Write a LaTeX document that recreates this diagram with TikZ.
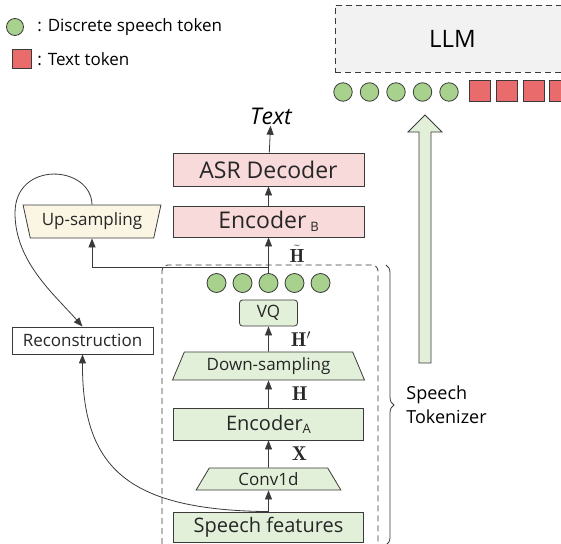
\RequirePackage{fix-cm}
\documentclass[tikz,border=0pt]{standalone}
\usepackage{fontspec}
\usepackage{amsmath}
\newfontfamily\labelfont{Open Sans}
\usetikzlibrary{shapes.geometric, arrows.meta, positioning, calc, decorations.pathreplacing}
\definecolor{boxgreen}{HTML}{E2F0D9}
\definecolor{tokgreen}{HTML}{A9D18E}
\definecolor{boxpink}{HTML}{F9DADA}
\definecolor{tokred}{HTML}{EA6B6B}
\definecolor{boxcream}{HTML}{FBF6E3}
\definecolor{llmgray}{HTML}{F2F2F2}
\definecolor{edge}{HTML}{3A3A3A}
\newcommand{\labsmall}{\fontsize{17}{20}\selectfont}
\newcommand{\labmid}{\fontsize{20}{24}\selectfont}
\newcommand{\labbig}{\fontsize{23}{27}\selectfont}
\newcommand{\subfs}{\fontsize{13}{13}\selectfont}

\begin{document}
\begin{tikzpicture}[
  x=1pt, y=1pt,
  >={Triangle[length=9pt, width=7pt]},
  font=\labelfont\labsmall,
  line width=0.8pt,
  draw=edge,
  blk/.style={draw=edge, inner sep=0pt, align=center, text=black!85},
  greenbox/.style={blk, fill=boxgreen},
  pinkbox/.style={blk, fill=boxpink},
  trap/.style={blk, fill=boxgreen, trapezium, trapezium stretches=true},
  tokc/.style={circle, draw=edge, fill=tokgreen, minimum size=19pt, inner sep=0pt},
  tokr/.style={draw=edge, fill=tokred, minimum size=21pt, inner sep=0pt},
  sym/.style={font=\fontsize{20}{20}\selectfont, inner sep=0pt, text=black!85},
  dashframe/.style={draw=edge, dash pattern=on 6pt off 4pt}
]
\useasboundingbox (0,0) rectangle (561,-543);

% legend
\node[tokc, minimum size=17pt] (legcirc) at (15,-27) {};
\node[anchor=west, inner sep=0pt] (legcirctext) at (37,-27) {: Discrete speech token};
\node[tokr, minimum size=19pt] (legsq) at (21.5,-59) {};
\node[anchor=west, inner sep=0pt] (legsqtext) at (37,-59) {: Text token};

% LLM and its input sequence
\node[dashframe, fill=llmgray, minimum width=235pt, minimum height=67pt, font=\labelfont\fontsize{24}{28}\selectfont] (llm) at (452.5,-38.5) {LLM};
\foreach \i in {0,...,4}
  \node[tokc, minimum size=18.5pt] (seq\i) at (343+26.5*\i,-92) {};
\foreach \i in {0,...,3}
  \node[tokr] (txt\i) at (480+26.7*\i,-91) {};

% hollow arrow into the LLM
\draw[draw=edge, fill=boxgreen] (419,-363) -- (419,-132) -- (408,-132) -- (425,-115)
  -- (442,-132) -- (431,-132) -- (431,-363) -- cycle;

% SPEECH TOKENIZER
\node[greenbox, minimum width=190pt, minimum height=30pt, font=\labelfont\labmid] (feat) at (268.5,-527) {Speech features};
\node[trap, trapezium left angle=63, trapezium right angle=63, minimum width=145pt, minimum height=22pt] (conv) at (268.5,-479) {Conv1d};
\node[greenbox, minimum width=190pt, minimum height=32pt, font=\labelfont\labmid] (encA) at (268.5,-424) {Encoder\raisebox{-3pt}{\subfs A}};
\node[trap, trapezium left angle=63, trapezium right angle=63, minimum width=192pt, minimum height=28pt] (down) at (268.5,-366) {Down-sampling};
\node[greenbox, rounded corners=3pt, minimum width=58pt, minimum height=26pt] (vq) at (268.5,-313) {VQ};
\foreach \i in {1,...,5}
  \node[tokc] (tok\i) at (190.5+26*\i,-283) {};

\draw[->] (feat) -- (conv);
\draw[->] (conv) -- node[sym, right=23pt] (lblX) {$\mathbf{X}$} (encA);
\draw[->] (encA) -- node[sym, right=23pt] (lblH) {$\mathbf{H}$} (down);
\draw[->] (down) -- node[sym, right=22pt] (lblHp) {$\mathbf{H}'$} (vq);

\draw[dashframe, rounded corners=6pt] (162,-560) rectangle (378,-265);
\draw[decorate, decoration={brace, amplitude=8pt}] (386,-265) -- (386,-545);
\node[anchor=west, align=left, inner sep=0pt, font=\labelfont\fontsize{18}{24}\selectfont] (toklabel) at (406,-405) {Speech\\Tokenizer};

% ASR branch
\node[pinkbox, minimum width=191pt, minimum height=31pt, font=\labelfont\labbig] (encB) at (268.5,-221.5) {Encoder\,\raisebox{-3pt}{\subfs B}};
\node[pinkbox, minimum width=191pt, minimum height=33pt, font=\labelfont\labbig] (asr) at (268.5,-169.5) {ASR Decoder};
\node[inner sep=1pt, font=\labelfont\itshape\labbig] (outtext) at (271,-116) {Text};

\draw[->] (tok3) -- (encB);
\node[sym, font=\fontsize{19}{19}\selectfont] (lblHt) at (297,-254) {$\tilde{\mathbf{H}}$};
\draw[->] (encB) -- (asr);
\draw[->] (asr) -- (outtext);

% reconstruction branch
\node[blk, fill=boxcream, trapezium, trapezium stretches=true, trapezium left angle=109, trapezium right angle=109, minimum width=138pt, minimum height=33pt] (up) at (92,-221.5) {Up-sampling};
\node[blk, fill=white, minimum width=141pt, minimum height=27pt] (recon) at (82.5,-340.5) {Reconstruction};

\coordinate (split) at (268.5,-267);
\draw[->] (split) -| (up.south);
\draw[->] (up.north) .. controls (91,-165) and (15,-160) .. (15,-213)
  .. controls (15,-262) and (55,-295) .. (recon.north);
\draw[->] (feat.north) .. controls (130,-510) and (82,-470) .. (recon.south);

\end{tikzpicture}
\end{document}
